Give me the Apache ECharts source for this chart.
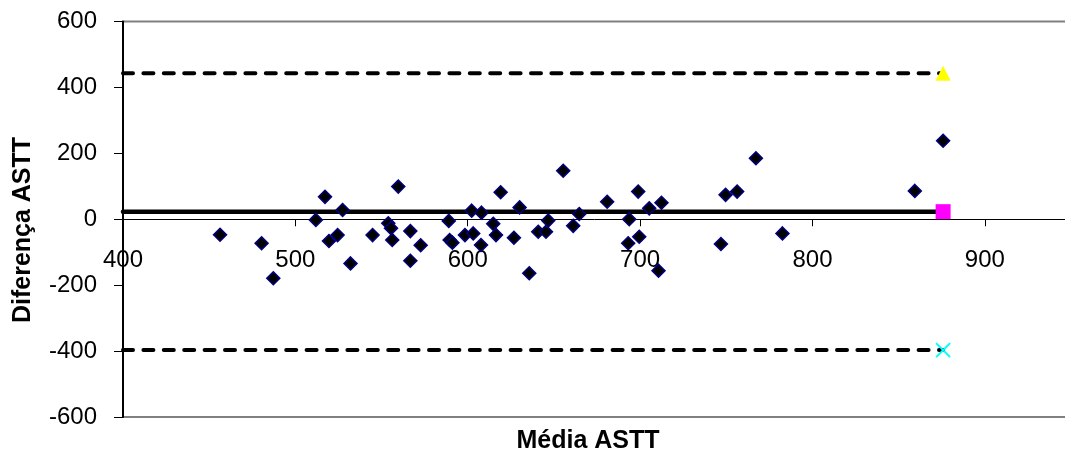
<!DOCTYPE html>
<html>
<head>
<meta charset="utf-8">
<script src="https://cdn.jsdelivr.net/npm/echarts@6/dist/echarts.min.js"></script>
<style>
html,body{margin:0;padding:0;background:#fff;}
#chart{width:1065px;height:456px;}
</style>
</head>
<body>
<div id="chart"></div>
<script>
// Mean of the two measurements (x) and their difference (y)
const meanASTT = [456.3, 480.4, 487.2, 511.9, 517.2, 519.5, 524.5, 527.4, 532.0, 544.8,
  553.9, 555.5, 556.2, 559.7, 566.7, 566.7, 572.7, 589.0, 589.5, 591.1,
  598.4, 602.3, 603.2, 608.0, 607.7, 614.8, 616.4, 619.1, 626.8, 630.1,
  635.7, 640.9, 645.4, 646.7, 655.4, 661.2, 664.7, 680.9, 693.1, 693.7,
  698.9, 699.5, 705.3, 710.7, 712.4, 746.9, 749.6, 756.3, 767.2, 782.6,
  859.4, 875.8];
const diffASTT = [-47, -73, -179, -2, 68, -66, -48, 28, -134, -48,
  -12, -27, -63, 99, -36, -126, -79, -5, -63, -71,
  -48, 26, -43, 20, -78, -14, -48, 82, -56, 36,
  -164, -38, -38, -4, 147, -20, 16, 53, -73, 0,
  84, -53, 33, -156, 50, -75, 74, 84, 185, -43,
  86, 238];
// Bias and limits of agreement
const biasValue = 23;
const upperLoA = 443;
const lowerLoA = -397;
const lineStart = 400;
const lineEnd = 875.8;
// Axis ranges and titles
const xMin = 400, xMax = 950, xStep = 100;
const yMin = -600, yMax = 600, yStep = 200;
const xAxisTitle = 'Média ASTT';
const yAxisTitle = 'Diferença ASTT';

const chart = echarts.init(document.getElementById('chart'), null, {renderer: 'canvas'});
const font = '"Liberation Sans", Arial, sans-serif';

const gridTop = 21.5, gridHeight = 395.5;
// place the x axis where y = 0 (the axis crosses at zero)
const xAxisOffset = -gridHeight * (0 - yMin) / (yMax - yMin);

const dashed = {color: '#000', width: 4, type: [10, 10.4], cap: 'round'};

chart.setOption({
  animation: false,
  backgroundColor: '#fff',
  grid: {
    left: 123, top: gridTop, width: 948, height: gridHeight,
    outerBoundsMode: 'none', containLabel: false,
    show: true, borderColor: '#808080', borderWidth: 2, backgroundColor: 'transparent'
  },
  xAxis: {
    type: 'value', min: xMin, max: xMax, interval: xStep,
    position: 'bottom', offset: xAxisOffset,
    axisLine: {show: true, onZero: false, lineStyle: {color: '#000', width: 1}},
    axisTick: {show: true, inside: false, length: 7, lineStyle: {color: '#000', width: 1}},
    axisLabel: {show: true, showMaxLabel: false, margin: 29, color: '#000', fontFamily: font, fontSize: 24, lineHeight: 24},
    splitLine: {show: false}
  },
  yAxis: {
    type: 'value', min: yMin, max: yMax, interval: yStep,
    axisLine: {show: true, onZero: false, lineStyle: {color: '#000', width: 2}},
    axisTick: {show: true, inside: false, length: 9, lineStyle: {color: '#000', width: 1}},
    axisLabel: {show: true, margin: 26, color: '#000', fontFamily: font, fontSize: 24},
    splitLine: {show: false}
  },
  graphic: [
    {type: 'text', x: 588, y: 441, style: {text: xAxisTitle, font: 'bold 25px ' + font, fill: '#000', align: 'center', verticalAlign: 'middle'}},
    {type: 'text', x: 23, y: 230, rotation: Math.PI / 2, style: {text: yAxisTitle, font: 'bold 25px ' + font, fill: '#000', align: 'center', verticalAlign: 'middle'}}
  ],
  series: [
    {
      type: 'line', z: 3,
      data: [{value: [lineStart, upperLoA], symbol: 'none'}, {value: [lineEnd, upperLoA]}],
      symbol: 'triangle', symbolSize: 15, showSymbol: true,
      itemStyle: {color: '#FFFF00', borderWidth: 0},
      lineStyle: dashed
    },
    {
      type: 'line', z: 3,
      data: [{value: [lineStart, biasValue], symbol: 'none'}, {value: [lineEnd, biasValue]}],
      symbol: 'rect', symbolSize: 15, showSymbol: true,
      itemStyle: {color: '#FF00FF', borderWidth: 0},
      lineStyle: {color: '#000', width: 4.5, cap: 'round'}
    },
    {
      type: 'line', z: 3,
      data: [{value: [lineStart, lowerLoA], symbol: 'none'}, {value: [lineEnd, lowerLoA]}],
      symbol: 'path://M0,0L10,10M10,0L0,10', symbolSize: 14, showSymbol: true,
      itemStyle: {color: 'rgba(0,0,0,0)', borderColor: '#00FFFF', borderWidth: 2},
      lineStyle: dashed
    },
    {
      type: 'scatter', z: 4,
      data: meanASTT.map((m, i) => [m, diffASTT[i]]),
      symbol: 'diamond', symbolSize: 13,
      itemStyle: {color: '#000', borderColor: '#000080', borderWidth: 1.5, opacity: 1}
    }
  ]
});
</script>
</body>
</html>
